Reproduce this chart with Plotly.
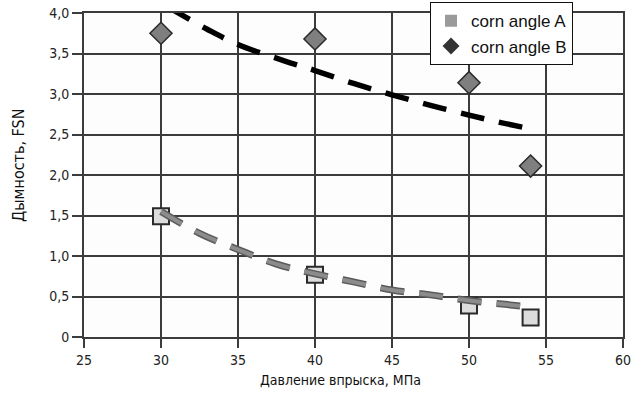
import plotly.graph_objects as go

# data
pressure = [30, 40, 50, 54]
smoke_a = [1.49, 0.77, 0.39, 0.24]
smoke_b = [3.75, 3.68, 3.14, 2.11]

trend_a_x = [30, 32.5, 35, 37.5, 40, 42.5, 45, 47.5, 50, 52.5, 54]
trend_a_y = [1.55, 1.28, 1.08, 0.90, 0.78, 0.68, 0.58, 0.52, 0.45, 0.40, 0.37]
trend_b_x = [30.5, 33, 35, 38, 40, 42.5, 45, 47.5, 50, 52, 54]
trend_b_y = [4.07, 3.80, 3.61, 3.41, 3.29, 3.13, 2.99, 2.86, 2.74, 2.65, 2.57]

x_ticks = [25, 30, 35, 40, 45, 50, 55, 60]
y_ticks = [0, 0.5, 1.0, 1.5, 2.0, 2.5, 3.0, 3.5, 4.0]
y_tick_text = ["0", "0,5", "1,0", "1,5", "2,0", "2,5", "3,0", "3,5", "4,0"]

series_names = ["corn angle A", "corn angle B"]
x_title = "Давление впрыска, МПа"
y_title = "Дымность, FSN"

NARROW = "Liberation Sans Narrow, Arial Narrow, DejaVu Sans Condensed, sans-serif"
REG = "Liberation Sans, Arial, sans-serif"
GRID = "#3c3c3c"

fig = go.Figure()

# data markers (not in legend)
fig.add_trace(go.Scatter(
    x=pressure, y=smoke_a, mode="markers", showlegend=False,
    marker=dict(symbol="square", size=16, color="#dcdcdc",
                line=dict(color="#2a2a2a", width=2)),
))
fig.add_trace(go.Scatter(
    x=pressure, y=smoke_b, mode="markers", showlegend=False,
    marker=dict(symbol="diamond", size=17, color="#7f7f7f",
                line=dict(color="#2a2a2a", width=1.5)),
))

# trend lines
fig.add_trace(go.Scatter(
    x=trend_a_x, y=trend_a_y, mode="lines", showlegend=False,
    line=dict(color="#5a5a5a", width=7, dash="24px,15px", shape="spline"),
))
fig.add_trace(go.Scatter(
    x=trend_a_x, y=trend_a_y, mode="lines", showlegend=False,
    line=dict(color="#8c8c8c", width=4, dash="24px,15px", shape="spline"),
))
fig.add_trace(go.Scatter(
    x=trend_b_x, y=trend_b_y, mode="lines", showlegend=False,
    line=dict(color="#000000", width=5.5, dash="24px,15px", shape="spline"),
))

# legend entries
fig.add_trace(go.Scatter(
    x=[None], y=[None], mode="markers", name=series_names[0],
    marker=dict(symbol="square", size=12, color="#9a9a9a"),
))
fig.add_trace(go.Scatter(
    x=[None], y=[None], mode="markers", name=series_names[1],
    marker=dict(symbol="diamond", size=13, color="#333333"),
))

fig.update_layout(
    width=635, height=413,
    margin=dict(l=84, r=12, t=13, b=76, autoexpand=False),
    paper_bgcolor="white",
    plot_bgcolor="#fdfdfd",
    font=dict(family=NARROW, size=14, color="#222222"),
    legend=dict(
        x=0.642, y=1.033, xanchor="left", yanchor="top",
        bgcolor="white", bordercolor="#111111", borderwidth=1,
        font=dict(family=REG, size=17, color="#111111"),
        itemwidth=30,
    ),
    xaxis=dict(
        range=[25, 60], tickvals=x_ticks, ticktext=[str(v) for v in x_ticks],
        showgrid=True, gridcolor=GRID, gridwidth=1.6,
        showline=True, linecolor=GRID, linewidth=2, mirror=True,
        ticks="outside", ticklen=9, tickwidth=2, tickcolor=GRID,
        zeroline=False, automargin=False,
    ),
    yaxis=dict(
        range=[0, 4.0], tickvals=y_ticks, ticktext=y_tick_text,
        showgrid=True, gridcolor=GRID, gridwidth=1.6,
        showline=True, linecolor=GRID, linewidth=2, mirror=True,
        ticks="outside", ticklen=10, tickwidth=2, tickcolor=GRID,
        zeroline=False, automargin=False,
    ),
    annotations=[
        dict(text=x_title, xref="paper", yref="paper",
             x=(340 - 84) / 539, y=-(380 - 337) / 324,
             xanchor="center", yanchor="middle", showarrow=False,
             font=dict(family=NARROW, size=14, color="#111111")),
        dict(text=y_title, xref="paper", yref="paper",
             x=-(84 - 18) / 539, y=(337 - 165) / 324, textangle=-90,
             xanchor="center", yanchor="middle", showarrow=False,
             font=dict(family=NARROW, size=16, color="#111111")),
    ],
)

fig.write_html("out.html")
